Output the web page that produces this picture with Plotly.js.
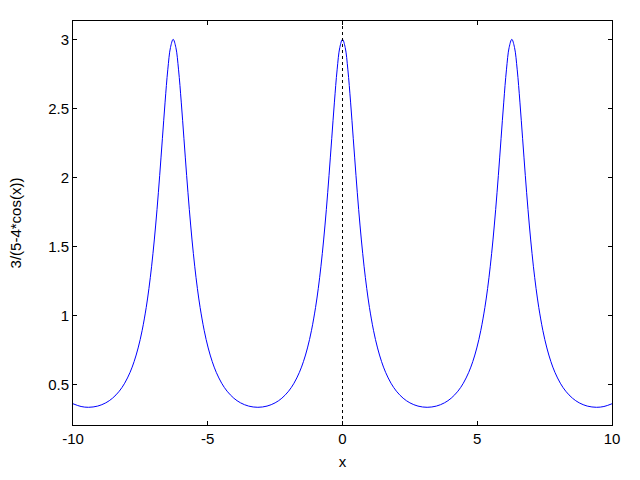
<!DOCTYPE html>
<html>
<head>
<meta charset="utf-8">
<script src="https://cdn.plot.ly/plotly-3.0.1.min.js"></script>
<style>html,body{margin:0;padding:0;background:#fff;}#chart{width:640px;height:480px;}</style>
</head>
<body>
<div id="chart"></div>
<script>
const xValues = [
  -10, -9.7, -9.4248, -9.0832, -8.7832, -8.5332, -8.2832, -8.0832, -7.8832, -7.7332, -7.5832, -7.4332,
  -7.2832, -7.1832, -7.0832, -6.9832, -6.8832, -6.7832, -6.6832, -6.5832, -6.4832, -6.3832, -6.2832,
  -6.1832, -6.0832, -5.9832, -5.8832, -5.7832, -5.6832, -5.5832, -5.4832, -5.3832, -5.2832, -5.1332,
  -4.9832, -4.8332, -4.6832, -4.4832, -4.2832, -4.0332, -3.7832, -3.4832, -3.1416,
  -2.8, -2.5, -2.25, -2.0, -1.8, -1.6, -1.45, -1.3, -1.15, -1.0, -0.9, -0.8, -0.7, -0.6, -0.5, -0.4, -0.3, -0.2, -0.1, 0,
  0.1, 0.2, 0.3, 0.4, 0.5, 0.6, 0.7, 0.8, 0.9, 1.0, 1.15, 1.3, 1.45, 1.6, 1.8, 2.0, 2.25, 2.5, 2.8, 3.1416,
  3.4832, 3.7832, 4.0332, 4.2832, 4.4832, 4.6832, 4.8332, 4.9832, 5.1332, 5.2832, 5.3832, 5.4832, 5.5832,
  5.6832, 5.7832, 5.8832, 5.9832, 6.0832, 6.1832, 6.2832,
  6.3832, 6.4832, 6.5832, 6.6832, 6.7832, 6.8832, 6.9832, 7.0832, 7.1832, 7.2832, 7.4332, 7.5832, 7.7332,
  7.8832, 8.0832, 8.2832, 8.5332, 8.7832, 9.0832, 9.4248, 9.7, 10
];
const yValues = [
  0.3590, 0.3390, 0.3333, 0.3421, 0.3656, 0.3993, 0.4501, 0.5077, 0.5863, 0.664, 0.7634, 0.8913,
  1.0568, 1.1935, 1.3555, 1.546, 1.766, 2.014, 2.280, 2.545, 2.779, 2.941, 3.0,
  2.941, 2.779, 2.545, 2.280, 2.014, 1.766, 1.546, 1.3555, 1.1935, 1.0568, 0.8913,
  0.7634, 0.664, 0.5863, 0.5077, 0.4501, 0.3993, 0.3656, 0.3421, 0.3333,
  0.3421, 0.3656, 0.3993, 0.4501, 0.5077, 0.5863, 0.664, 0.7634, 0.8913, 1.0568, 1.1935, 1.3555, 1.546, 1.766, 2.014, 2.280, 2.545, 2.779, 2.941, 3.0,
  2.941, 2.779, 2.545, 2.280, 2.014, 1.766, 1.546, 1.3555, 1.1935, 1.0568, 0.8913, 0.7634, 0.664, 0.5863, 0.5077, 0.4501, 0.3993, 0.3656, 0.3421, 0.3333,
  0.3421, 0.3656, 0.3993, 0.4501, 0.5077, 0.5863, 0.664, 0.7634, 0.8913, 1.0568, 1.1935, 1.3555, 1.546,
  1.766, 2.014, 2.280, 2.545, 2.779, 2.941, 3.0,
  2.941, 2.779, 2.545, 2.280, 2.014, 1.766, 1.546, 1.3555, 1.1935, 1.0568, 0.8913, 0.7634, 0.664,
  0.5863, 0.5077, 0.4501, 0.3993, 0.3656, 0.3421, 0.3333, 0.3390, 0.3590
];
const xTicks = [-10, -5, 0, 5, 10];
const xTickLabels = ["-10", "-5", "0", "5", "10"];
const yTicks = [0.5, 1, 1.5, 2, 2.5, 3];
const yTickLabels = ["0.5", "1", "1.5", "2", "2.5", "3"];
const xLabel = "x";
const yLabel = "3/(5-4*cos(x))";

const trace = {
  x: xValues, y: yValues, type: 'scatter', mode: 'lines',
  line: {color: '#0000ff', width: 1, shape: 'spline', smoothing: 1},
  hoverinfo: 'none'
};

const font = {family: 'Liberation Sans, Arial, sans-serif', size: 15, color: '#000'};
const layout = {
  width: 640, height: 480,
  margin: {l: 73, r: 28, t: 21, b: 55},
  paper_bgcolor: '#fff', plot_bgcolor: '#fff',
  showlegend: false,
  font: font,
  xaxis: {
    range: [-10, 10], tickvals: xTicks, ticktext: xTickLabels,
    ticks: 'inside', ticklen: 4, tickwidth: 1, tickcolor: '#000',
    showline: true, linecolor: '#000', linewidth: 1, mirror: 'ticks',
    showgrid: false, zeroline: false,
    title: {text: xLabel, font: font, standoff: 10},
    tickfont: font
  },
  yaxis: {
    range: [0.205, 3.133], tickvals: yTicks, ticktext: yTickLabels,
    ticks: 'inside', ticklen: 4, tickwidth: 1, tickcolor: '#000',
    showline: true, linecolor: '#000', linewidth: 1, mirror: 'ticks',
    showgrid: false, zeroline: false,
    title: {text: yLabel, font: font, standoff: 22},
    tickfont: font
  },
  shapes: [{
    type: 'line', xref: 'x', yref: 'paper', x0: 0, x1: 0, y0: 0, y1: 1,
    line: {color: '#000', width: 1, dash: 'dot'}
  }]
};

Plotly.newPlot('chart', [trace], layout, {staticPlot: true, displayModeBar: false});
</script>
</body>
</html>
